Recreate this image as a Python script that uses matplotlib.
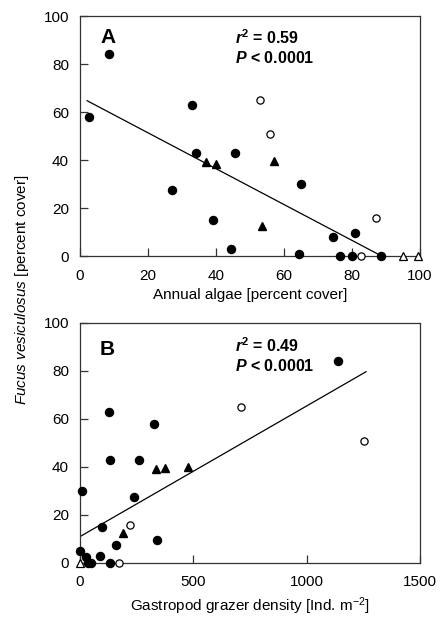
import matplotlib.pyplot as plt
import matplotlib as mpl

mpl.rcParams['font.family'] = ['Liberation Sans', 'DejaVu Sans']
mpl.rcParams['mathtext.fontset'] = 'custom'
mpl.rcParams['mathtext.rm'] = 'Liberation Sans'
mpl.rcParams['mathtext.it'] = 'Liberation Sans:italic'
mpl.rcParams['mathtext.bf'] = 'Liberation Sans:bold'
mpl.rcParams['mathtext.bfit'] = 'Liberation Sans:italic:bold'

# panel A: annual algae cover vs Fucus cover
a_dot_x = [2.5, 8.5, 33, 34, 45.5, 65, 27, 39, 81, 74.5, 44.5, 64.5, 76.5, 80, 88.5]
a_dot_y = [58, 84, 63, 43, 43, 30, 27.5, 15, 9.5, 8, 3, 1, 0, 0, 0]
a_open_x = [53, 56, 87, 82.5]
a_open_y = [65, 51, 16, 0]
a_tri_x = [37, 40, 57, 53.5]
a_tri_y = [39, 38.5, 39.5, 12.5]
a_otri_x = [95, 99.5]
a_otri_y = [0, 0]
a_fit_x = [2.1, 88.7]
a_fit_y = [64.7, 0]

# panel B: gastropod grazer density vs Fucus cover
b_dot_x = [1140, 128, 325, 132, 262, 238, 97, 160, 338, 10, 0, 25, 90, 35, 50, 132]
b_dot_y = [84, 63, 58, 43, 43, 27.5, 15, 7.5, 9.5, 30, 5, 2.5, 3, 0, 0, 0]
b_open_x = [710, 1255, 220, 172]
b_open_y = [65, 51, 16, 0]
b_tri_x = [335, 375, 475, 190]
b_tri_y = [39, 39.5, 40, 12.5]
b_otri_x = [0]
b_otri_y = [0]
b_fit_x = [0, 1262]
b_fit_y = [11, 79.7]

W, H = 441, 626
fig = plt.figure(figsize=(W / 100, H / 100), dpi=100)
axA = fig.add_axes([80 / W, 1 - 256 / H, 340 / W, 240 / H])
axB = fig.add_axes([80 / W, 1 - 563 / H, 340 / W, 240 / H])


def draw(ax, dx, dy, ox, oy, tx, ty, otx, oty, fx, fy):
    ax.plot(fx, fy, color='black', lw=0.9, zorder=2)
    ax.plot(dx, dy, 'o', color='black', ms=5.8, ls='None', zorder=3, clip_on=False)
    ax.plot(ox, oy, 'o', mfc='white', mec='black', mew=0.9, ms=5.2, ls='None', zorder=3, clip_on=False)
    ax.plot(tx, ty, '^', color='black', ms=5.8, ls='None', zorder=3, clip_on=False)
    ax.plot(otx, oty, '^', mfc='white', mec='black', mew=0.9, ms=5.2, ls='None', zorder=3, clip_on=False)
    for s in ax.spines.values():
        s.set_linewidth(0.9)
        s.set_color('#333333')
    ax.tick_params(direction='in', length=6, width=0.9, labelsize=11, color='#333333')
    ax.tick_params(axis='x', pad=9)
    ax.tick_params(axis='y', pad=8)


draw(axA, a_dot_x, a_dot_y, a_open_x, a_open_y, a_tri_x, a_tri_y, a_otri_x, a_otri_y, a_fit_x, a_fit_y)
draw(axB, b_dot_x, b_dot_y, b_open_x, b_open_y, b_tri_x, b_tri_y, b_otri_x, b_otri_y, b_fit_x, b_fit_y)

axA.set_xlim(0, 100)
axA.set_ylim(0, 100)
axA.set_xticks([0, 20, 40, 60, 80, 100])
axA.set_yticks([0, 20, 40, 60, 80, 100])
axA.set_xlabel('Annual algae [percent cover]', fontsize=11, labelpad=4)
axA.text(6, 95, 'A', fontsize=15, fontweight='bold', va='top', ha='left')
axA.text(45.6, 88.2, r'$\mathbfit{r}^{\mathbf{2}}$ = 0.59', fontsize=11.5, fontweight='bold')
axA.text(45.6, 80.3, r'$\mathbfit{P}$ < 0.0001', fontsize=11.5, fontweight='bold')

axB.set_xlim(0, 1500)
axB.set_ylim(0, 100)
axB.set_xticks([0, 500, 1000, 1500])
axB.set_yticks([0, 20, 40, 60, 80, 100])
axB.set_xlabel('Gastropod grazer density [Ind. m$^{-2}$]', fontsize=11, labelpad=4)
axB.text(88, 93, 'B', fontsize=15, fontweight='bold', va='top', ha='left')
axB.text(684, 88, r'$\mathbfit{r}^{\mathbf{2}}$ = 0.49', fontsize=11.5, fontweight='bold')
axB.text(684, 80.1, r'$\mathbfit{P}$ < 0.0001', fontsize=11.5, fontweight='bold')

fig.text(22 / W, 1 - 290 / H, r'$\it{Fucus\ vesiculosus}$ [percent cover]',
         rotation=90, ha='center', va='center', fontsize=11)

fig.savefig('out.png', dpi=100)
